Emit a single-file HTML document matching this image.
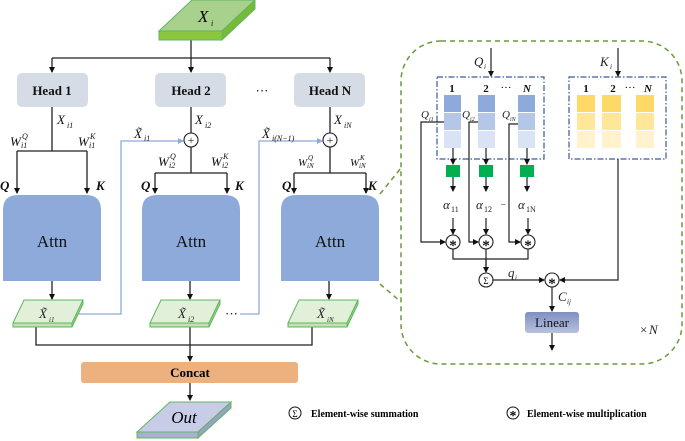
<!DOCTYPE html>
<html><head><meta charset="utf-8"><style>
html,body{margin:0;padding:0;background:#fff}
svg{display:block}
text{font-family:"Liberation Serif",serif}
.b{font-weight:bold}
.i{font-style:italic}
</style></head><body>
<svg width="685" height="441" viewBox="0 0 685 441" xmlns="http://www.w3.org/2000/svg">
<defs>
<marker id="a" markerWidth="6" markerHeight="6" refX="5" refY="3" orient="auto" markerUnits="userSpaceOnUse"><path d="M0,0 L6,3 L0,6z" fill="#111"/></marker>
<marker id="ab" markerWidth="6" markerHeight="6" refX="5" refY="3" orient="auto" markerUnits="userSpaceOnUse"><path d="M0,0 L6,3 L0,6z" fill="#8eaadb"/></marker>
<linearGradient id="lg" x1="0" y1="0" x2="0" y2="1"><stop offset="0" stop-color="#7f8fbf"/><stop offset="1" stop-color="#b8c2de"/></linearGradient>
</defs>
<g stroke="#222" stroke-width="1.3" fill="none">
<path d="M191,40 V58"/>
<path d="M52,58 H330"/>
<path d="M52,58 V72" marker-end="url(#a)"/>
<path d="M191,58 V72" marker-end="url(#a)"/>
<path d="M330,58 V72" marker-end="url(#a)"/>
<path d="M52,107 V151 M17,151 H87"/>
<path d="M17,151 V193" marker-end="url(#a)"/>
<path d="M87,151 V193" marker-end="url(#a)"/>
<path d="M191,107 V133 M191,147 V173 M155,173 H227"/>
<path d="M155,173 V193" marker-end="url(#a)"/>
<path d="M227,173 V193" marker-end="url(#a)"/>
<path d="M330,107 V133 M330,147 V173 M294,173 H366"/>
<path d="M294,173 V193" marker-end="url(#a)"/>
<path d="M366,173 V193" marker-end="url(#a)"/>
<path d="M52,281 V299" marker-end="url(#a)"/>
<path d="M190,281 V299" marker-end="url(#a)"/>
<path d="M329,281 V299" marker-end="url(#a)"/>
<path d="M36,327 V345 H312 V327"/>
<path d="M190,327 V361" marker-end="url(#a)"/>
<path d="M190,383 V400" marker-end="url(#a)"/>
</g>
<g stroke="#8eaadb" stroke-width="1.3" fill="none">
<path d="M74,314 H121 V141 H183" marker-end="url(#ab)"/>
<path d="M240,314 H259 V141 H322" marker-end="url(#ab)"/>
</g>
<g stroke="#222" stroke-width="1.1" fill="#fff">
<circle cx="191" cy="140" r="7"/><circle cx="330" cy="140" r="7"/>
</g>
<g font-size="12" fill="#222"><text x="191" y="144" text-anchor="middle">+</text><text x="330" y="144" text-anchor="middle">+</text></g>
<path d="M159,31 L192,0 L255,0 L222,31z" fill="#a9d18e" stroke="#5cb85c"/>
<path d="M159,31 H222 V40 H159z" fill="#8cc63f" stroke="#5cb85c"/>
<path d="M222,31 L255,0 V9 L222,40z" fill="#7ab83a" stroke="#5cb85c"/>
<text x="198" y="22" font-size="17" class="i">X</text><text x="211" y="26" font-size="8" class="i">i</text>
<g fill="#d6dce6"><rect x="17" y="73" width="71" height="34" rx="5"/><rect x="155" y="73" width="71" height="34" rx="5"/><rect x="294" y="73" width="71" height="34" rx="5"/></g>
<g font-size="13" class="b" text-anchor="middle" fill="#111"><text x="52" y="95">Head 1</text><text x="191" y="95">Head 2</text><text x="330" y="95">Head N</text></g>
<text x="262" y="95" font-size="13" text-anchor="middle">···</text>
<g fill="#8eaadb"><path d="M3,281 V210 Q3,195 18,195 H86 Q101,195 101,210 V281z"/><path d="M142,281 V210 Q142,195 157,195 H225 Q240,195 240,210 V281z"/><path d="M281,281 V210 Q281,195 296,195 H364 Q379,195 379,210 V281z"/></g>
<g font-size="17" text-anchor="middle" fill="#111"><text x="52" y="247">Attn</text><text x="191" y="247">Attn</text><text x="330" y="247">Attn</text></g>
<g font-size="13" class="i" fill="#111">
<text x="57" y="124">X</text><text x="67" y="128" font-size="8">i1</text>
<text x="195" y="124">X</text><text x="205" y="128" font-size="8">i2</text>
<text x="334" y="124">X</text><text x="344" y="128" font-size="8">iN</text>
<text x="134" y="138">X̃</text><text x="144" y="141" font-size="8">i1</text>
<text x="262" y="138">X̃</text><text x="272" y="141" font-size="8">i(N−1)</text>
<text x="10" y="146">W</text><text x="22" y="139" font-size="8">Q</text><text x="21" y="148" font-size="8">i1</text>
<text x="78" y="146">W</text><text x="90" y="139" font-size="8">K</text><text x="89" y="148" font-size="8">i1</text>
<text x="158" y="166">W</text><text x="170" y="159" font-size="8">Q</text><text x="169" y="168" font-size="8">i2</text>
<text x="211" y="166">W</text><text x="223" y="159" font-size="8">K</text><text x="222" y="168" font-size="8">i2</text>
<text x="298" y="166" font-size="11">W</text><text x="308" y="160" font-size="7">Q</text><text x="307" y="168" font-size="7">iN</text>
<text x="350" y="166" font-size="11">W</text><text x="360" y="160" font-size="7">K</text><text x="359" y="168" font-size="7">iN</text>
<text x="0" y="190" class="b">Q</text><text x="96" y="190" class="b">K</text>
<text x="141" y="190" class="b">Q</text><text x="235" y="190" class="b">K</text>
<text x="282" y="190" class="b">Q</text><text x="368" y="190" class="b">K</text>
</g>
<g stroke="#5cb85c" stroke-width="1">
<path d="M13,323 L24,300 L83,300 L72,323z" fill="#e2f0d9"/><path d="M13,323 H72 V327 H13z" fill="#c5e0b4"/><path d="M72,323 L83,300 V304 L72,327z" fill="#a9d18e"/>
<path d="M150,323 L161,300 L220,300 L209,323z" fill="#e2f0d9"/><path d="M150,323 H209 V327 H150z" fill="#c5e0b4"/><path d="M209,323 L220,300 V304 L209,327z" fill="#a9d18e"/>
<path d="M288,323 L299,300 L358,300 L347,323z" fill="#e2f0d9"/><path d="M288,323 H347 V327 H288z" fill="#c5e0b4"/><path d="M347,323 L358,300 V304 L347,327z" fill="#a9d18e"/>
</g>
<g font-size="13" class="i" fill="#222">
<text x="39" y="318">X̃</text><text x="49" y="322" font-size="7">i1</text>
<text x="178" y="318">X̃</text><text x="188" y="322" font-size="8">i2</text>
<text x="317" y="318">X̃</text><text x="327" y="322" font-size="7">iN</text>
</g>
<text x="225" y="318" font-size="13">···</text>
<rect x="81" y="362" width="217" height="21" rx="3" fill="#edb07f"/>
<text x="190" y="377" font-size="13" class="b" text-anchor="middle">Concat</text>
<path d="M137,432 L170,402 L231,402 L198,432z" fill="#c8cce6" stroke="#5cb85c"/>
<path d="M137,432 H198 V438 H137z" fill="#aab0d4" stroke="#5cb85c"/>
<path d="M198,432 L231,402 V408 L198,438z" fill="#9aa0c8" stroke="#5cb85c"/>
<text x="184" y="423" font-size="17" class="i" text-anchor="middle">Out</text>
<circle cx="295" cy="413" r="6" fill="#fff" stroke="#111"/><text x="295" y="417" font-size="9" text-anchor="middle">Σ</text>
<text x="311" y="417" font-size="10" class="b">Element-wise summation</text>
<circle cx="513" cy="413" r="6" fill="#fff" stroke="#111"/><text x="513" y="420" font-size="14" class="b" text-anchor="middle">*</text>
<text x="527" y="417" font-size="10" class="b">Element-wise multiplication</text>
<rect x="401" y="41" width="281" height="323" rx="40" fill="none" stroke="#6a9a3a" stroke-width="1.5" stroke-dasharray="5,4"/>
<path d="M380,194 L401,168 M380,284 L401,302" stroke="#6a9a3a" stroke-width="1.5" stroke-dasharray="5,4"/>
<g fill="none" stroke="#3a5a9a" stroke-width="1.2" stroke-dasharray="6,2,1.5,2">
<rect x="437" y="77" width="107" height="82"/><rect x="569" y="77" width="97" height="82"/>
</g>
<g>
<rect x="444" y="95" width="17" height="17" fill="#8eaadb"/><rect x="444" y="113" width="17" height="17" fill="#b4c7e7"/><rect x="444" y="131" width="17" height="17" fill="#dae3f3"/>
<rect x="478" y="95" width="17" height="17" fill="#8eaadb"/><rect x="478" y="113" width="17" height="17" fill="#b4c7e7"/><rect x="478" y="131" width="17" height="17" fill="#dae3f3"/>
<rect x="518" y="95" width="17" height="17" fill="#8eaadb"/><rect x="518" y="113" width="17" height="17" fill="#b4c7e7"/><rect x="518" y="131" width="17" height="17" fill="#dae3f3"/>
<rect x="577" y="95" width="18" height="17" fill="#ffd966"/><rect x="577" y="113" width="18" height="17" fill="#ffe699"/><rect x="577" y="131" width="18" height="17" fill="#fff2cc"/>
<rect x="602" y="95" width="19" height="17" fill="#ffd966"/><rect x="602" y="113" width="19" height="17" fill="#ffe699"/><rect x="602" y="131" width="19" height="17" fill="#fff2cc"/>
<rect x="636" y="95" width="18" height="17" fill="#ffd966"/><rect x="636" y="113" width="18" height="17" fill="#ffe699"/><rect x="636" y="131" width="18" height="17" fill="#fff2cc"/>
</g>
<g font-size="11" class="b" text-anchor="middle" fill="#111">
<text x="452" y="92">1</text><text x="486" y="92">2</text><text x="527" y="92" class="i">N</text>
<text x="586" y="92">1</text><text x="613" y="92">2</text><text x="648" y="92" class="i">N</text>
</g>
<text x="506" y="91" font-size="11" text-anchor="middle">···</text><text x="630" y="91" font-size="11" text-anchor="middle">···</text>
<g stroke="#222" stroke-width="1.2" fill="none">
<path d="M491,48 V76" marker-end="url(#a)"/><path d="M618,48 V76" marker-end="url(#a)"/>
<path d="M453,148 V164" marker-end="url(#a)"/><path d="M486,148 V164" marker-end="url(#a)"/><path d="M527,148 V164" marker-end="url(#a)"/>
<path d="M453,177 V191" marker-end="url(#a)"/><path d="M486,177 V191" marker-end="url(#a)"/><path d="M527,177 V191" marker-end="url(#a)"/>
<path d="M453,218 V234" marker-end="url(#a)"/><path d="M486,218 V234" marker-end="url(#a)"/><path d="M528,218 V234" marker-end="url(#a)"/>
<path d="M444,122 H421 V242 H445" marker-end="url(#a)"/>
<path d="M478,122 H469 V242 H478" marker-end="url(#a)"/>
<path d="M518,124 H509 V242 H520" marker-end="url(#a)"/>
<path d="M453,249 V259 H528 V249 M486,249 V272" />
<path d="M486,259 V272" marker-end="url(#a)"/>
<path d="M493,280 H544" marker-end="url(#a)"/>
<path d="M618,159 V280 H560" marker-end="url(#a)"/>
<path d="M552,287 V311" marker-end="url(#a)"/>
<path d="M552,333 V350" marker-end="url(#a)"/>
</g>
<g fill="#00b050"><rect x="446" y="165" width="14" height="12"/><rect x="479" y="165" width="14" height="12"/><rect x="520" y="165" width="14" height="12"/></g>
<g stroke="#222" stroke-width="1.1" fill="#fff">
<circle cx="453" cy="242" r="7"/><circle cx="486" cy="242" r="7"/><circle cx="528" cy="242" r="7"/><circle cx="486" cy="280" r="7"/><circle cx="552" cy="280" r="7"/>
</g>
<g font-size="15" class="b" text-anchor="middle" fill="#111">
<text x="453" y="250">*</text><text x="486" y="250">*</text><text x="528" y="250">*</text><text x="552" y="288">*</text>
</g>
<text x="486" y="284" font-size="9" text-anchor="middle">Σ</text>
<g font-size="13" class="i" fill="#222">
<text x="474" y="66">Q</text><text x="484" y="69" font-size="7">i</text>
<text x="600" y="66">K</text><text x="610" y="69" font-size="7">i</text>
<text x="421" y="118" font-size="11">Q</text><text x="429" y="121" font-size="6">i1</text>
<text x="462" y="118" font-size="11">Q</text><text x="470" y="121" font-size="6">i2</text>
<text x="502" y="118" font-size="11">Q</text><text x="510" y="121" font-size="6">iN</text>
<text x="443" y="209">α</text><text x="451" y="212" font-size="8" style="font-style:normal">11</text>
<text x="476" y="209">α</text><text x="484" y="212" font-size="8" style="font-style:normal">12</text>
<text x="501" y="207" font-size="9" style="font-style:normal">–</text>
<text x="518" y="209">α</text><text x="526" y="212" font-size="8" style="font-style:normal">1N</text>
<text x="508" y="277">q</text><text x="515" y="280" font-size="7">i</text>
<text x="558" y="301">C</text><text x="567" y="304" font-size="7">ij</text>
<text x="640" y="334" style="font-style:normal">×</text><text x="649" y="334">N</text>
</g>
<rect x="525" y="312" width="54" height="21" rx="3" fill="url(#lg)"/>
<text x="552" y="327" font-size="13" text-anchor="middle" fill="#111">Linear</text>
</svg>
</body></html>
